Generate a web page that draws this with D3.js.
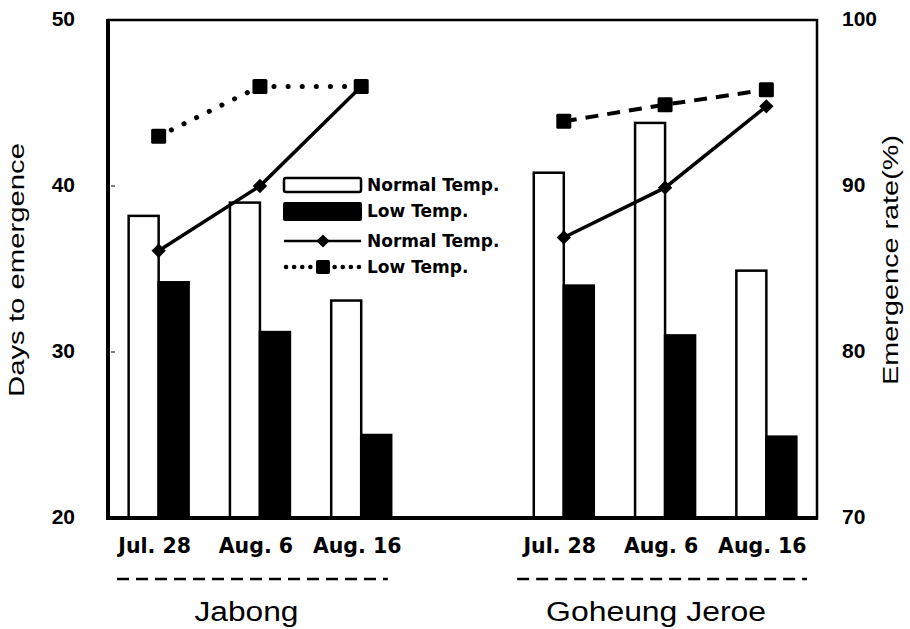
<!DOCTYPE html>
<html lang="en">
    <head>
        <meta charset="utf-8">
        <title>Days to emergence and emergence rate</title>
        <script src="https://d3js.org/d3.v7.min.js"></script>
        <style type="text/css">
            body { margin: 0; background: white; }
            text { font-family: "Liberation Sans", Arial, sans-serif; fill: black; }
            .tick-lab { font-size: 21px; font-weight: bold; }
            .date-lab { font-family: "DejaVu Sans", sans-serif; font-size: 20.5px; font-weight: bold; }
            .site-lab { font-size: 27px; }
            .axis-title { font-size: 22px; }
            .legend-lab { font-family: "DejaVu Sans", sans-serif; font-size: 17px; font-weight: bold; }
        </style>
    </head>
    <body>
        <svg width="910" height="629"></svg>
        <script type="text/javascript">

            // data
            const sites = ["Jabong", "Goheung Jeroe"];
            const dates = ["Jul. 28", "Aug. 6", "Aug. 16"];
            const daysNormal = [[38.2, 39.0, 33.1], [40.8, 43.8, 34.9]];
            const daysLow    = [[34.2, 31.2, 25.0], [34.0, 31.0, 24.9]];
            const rateNormal = [[86.1, 90.0, 96.0], [86.9, 89.9, 94.8]];
            const rateLow    = [[93.0, 96.0, 96.0], [93.9, 94.9, 95.8]];
            const leftTicks = [20, 30, 40, 50];
            const rightTicks = [70, 80, 90, 100];
            const legendItems = ["Normal Temp.", "Low Temp.", "Normal Temp.", "Low Temp."];

            const svg = d3.select("svg");
            const m = {left: 108, right: 817, top: 20, bottom: 518};

            // one band per date, plus an empty slot between the two sites
            const slots = [];
            sites.forEach((s, si) => {
                dates.forEach(d => slots.push(s + "|" + d));
                if (si < sites.length - 1) slots.push("gap" + si);
            });

            const x = d3.scaleBand().domain(slots).range([m.left, m.right]);
            const yL = d3.scaleLinear().domain([20, 50]).range([m.bottom, m.top]);
            const yR = d3.scaleLinear().domain([70, 100]).range([m.bottom, m.top]);
            const barW = 30;
            const cx = key => x(key) + x.bandwidth() / 2;

            const bars = [];
            sites.forEach((s, si) => {
                dates.forEach((d, di) => {
                    const k = s + "|" + d;
                    bars.push({k: k, v: daysNormal[si][di], low: false});
                    bars.push({k: k, v: daysLow[si][di], low: true});
                });
            });

            // bars
            svg.selectAll("rect.bar")
               .data(bars)
               .enter()
               .append("rect")
               .attr("class", "bar")
               .attr("x", d => d.low ? cx(d.k) : cx(d.k) - barW)
               .attr("y", d => yL(d.v))
               .attr("width", barW)
               .attr("height", d => yL(20) - yL(d.v))
               .style("fill", d => d.low ? "black" : "white")
               .style("stroke", "black")
               .style("stroke-width", 2.5);

            // lines on the right axis
            sites.forEach((s, si) => {
                const keys = dates.map(d => s + "|" + d);
                const line = d3.line().x(d => cx(d[0])).y(d => yR(d[1]));
                const nData = keys.map((k, i) => [k, rateNormal[si][i]]);
                const lData = keys.map((k, i) => [k, rateLow[si][i]]);

                // low temp: dotted for Jabong, dashed for Goheung
                svg.append("path")
                   .attr("d", line(lData))
                   .style("fill", "none")
                   .style("stroke", "black")
                   .style("stroke-width", si == 0 ? 5 : 4)
                   .style("stroke-linecap", si == 0 ? "round" : "butt")
                   .style("stroke-dasharray", si == 0 ? "0.1 14" : "13 9");

                svg.append("path")
                   .attr("d", line(nData))
                   .style("fill", "none")
                   .style("stroke", "black")
                   .style("stroke-width", 3.5);

                svg.selectAll(null)
                   .data(lData)
                   .enter()
                   .append("rect")
                   .attr("x", d => cx(d[0]) - 7.5)
                   .attr("y", d => yR(d[1]) - 7.5)
                   .attr("width", 15)
                   .attr("height", 15)
                   .attr("rx", 1.5)
                   .style("fill", "black");

                svg.selectAll(null)
                   .data(nData)
                   .enter()
                   .append("path")
                   .attr("d", d3.symbol().type(d3.symbolDiamond2).size(130))
                   .attr("transform", d => `translate(${cx(d[0])},${yR(d[1])})`)
                   .style("fill", "black");
            });

            // frame
            svg.append("rect")
               .attr("x", m.left).attr("y", m.top)
               .attr("width", m.right - m.left).attr("height", m.bottom - m.top)
               .style("fill", "none").style("stroke", "black").style("stroke-width", 2.5);
            svg.append("line")
               .attr("x1", m.left).attr("x2", m.left).attr("y1", m.top - 1).attr("y2", m.bottom + 2)
               .style("stroke", "black").style("stroke-width", 4);
            svg.append("line")
               .attr("x1", m.left).attr("x2", m.right + 1).attr("y1", m.bottom).attr("y2", m.bottom)
               .style("stroke", "black").style("stroke-width", 4);

            // left axis
            svg.selectAll(null).data(leftTicks).enter().append("text")
               .attr("class", "tick-lab")
               .attr("x", 75).attr("y", d => yL(d) + 6)
               .attr("text-anchor", "end")
               .text(d => d);
            svg.selectAll(null).data(leftTicks.slice(1, -1)).enter().append("line")
               .attr("x1", m.left + 3).attr("x2", m.left + 7)
               .attr("y1", d => yL(d)).attr("y2", d => yL(d))
               .style("stroke", "black").style("stroke-width", 1);

            // right axis
            svg.selectAll(null).data(rightTicks).enter().append("text")
               .attr("class", "tick-lab")
               .attr("x", 842).attr("y", d => yR(d) + 6)
               .text(d => d);

            // date labels and site labels
            sites.forEach((s, si) => {
                const keys = dates.map(d => s + "|" + d);
                svg.selectAll(null).data(keys).enter().append("text")
                   .attr("class", "date-lab")
                   .attr("x", k => cx(k) - 4).attr("y", 553)
                   .attr("text-anchor", "middle")
                   .text(k => k.split("|")[1]);

                const x0 = x(keys[0]) + (si == 0 ? 9 : 4);
                const x1 = x(keys[2]) + x.bandwidth() - (si == 0 ? 24 : 10);
                svg.append("line")
                   .attr("x1", x0).attr("x2", x1).attr("y1", 579).attr("y2", 579)
                   .style("stroke", "black").style("stroke-width", 2.5)
                   .style("stroke-dasharray", "12 7");

                svg.append("text")
                   .attr("class", "site-lab")
                   .attr("x", (x0 + x1) / 2 - 6).attr("y", 621)
                   .attr("text-anchor", "middle")
                   .attr("textLength", si == 0 ? 104 : 220)
                   .attr("lengthAdjust", "spacingAndGlyphs")
                   .text(s);
            });

            // axis titles
            svg.append("text")
               .attr("class", "axis-title")
               .attr("transform", "translate(24,270) rotate(-90)")
               .attr("text-anchor", "middle")
               .attr("textLength", 254)
               .attr("lengthAdjust", "spacingAndGlyphs")
               .text("Days to emergence");
            svg.append("text")
               .attr("class", "axis-title")
               .attr("transform", "translate(898,260) rotate(-90)")
               .attr("text-anchor", "middle")
               .attr("textLength", 250)
               .attr("lengthAdjust", "spacingAndGlyphs")
               .text("Emergence rate(%)");

            // legend
            const lg = svg.append("g").attr("transform", "translate(284,174)");
            lg.append("rect").attr("x", 0).attr("y", 4).attr("width", 77).attr("height", 14)
              .attr("rx", 2)
              .style("fill", "white").style("stroke", "black").style("stroke-width", 2.5);
            lg.append("rect").attr("x", -1).attr("y", 28).attr("width", 79).attr("height", 19)
              .attr("rx", 2)
              .style("fill", "black");
            lg.append("line").attr("x1", 0).attr("x2", 77).attr("y1", 67).attr("y2", 67)
              .style("stroke", "black").style("stroke-width", 2.5);
            lg.append("path").attr("d", d3.symbol().type(d3.symbolDiamond2).size(110))
              .attr("transform", "translate(39,67)").style("fill", "black");
            lg.append("line").attr("x1", 2).attr("x2", 77).attr("y1", 93).attr("y2", 93)
              .style("stroke", "black").style("stroke-width", 4.5)
              .style("stroke-linecap", "round").style("stroke-dasharray", "0.1 8");
            lg.append("rect").attr("x", 32).attr("y", 86).attr("width", 14).attr("height", 14)
              .attr("rx", 2)
              .style("fill", "black");
            lg.selectAll(null).data(legendItems).enter().append("text")
              .attr("class", "legend-lab")
              .attr("x", 83).attr("y", (d, i) => [17, 43, 73, 99][i])
              .text(d => d);

        </script>
    </body>
</html>
